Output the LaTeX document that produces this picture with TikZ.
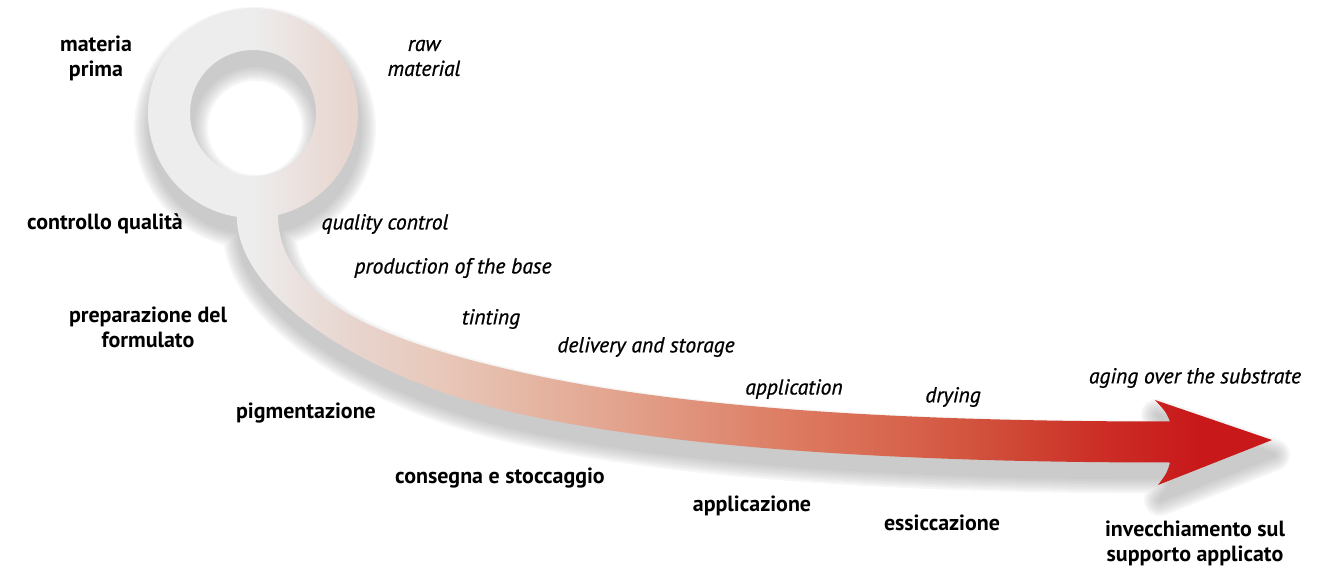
\documentclass[tikz,border=0pt]{standalone}
\usepackage{fontspec}
\setmainfont{PT Sans}
\newfontface\englishface{PT Sans Italic}[FakeBold=0.8]
\usepackage{tikz}
\definecolor{FlowGrey}{HTML}{EDEDED}
\definecolor{FlowBlush}{HTML}{E8D6D0}
\definecolor{FlowSand}{HTML}{E8C8BA}
\definecolor{FlowPeach}{HTML}{E4B09C}
\definecolor{FlowCoral}{HTML}{E0917A}
\definecolor{FlowSalmon}{HTML}{DC7A60}
\definecolor{FlowBrick}{HTML}{D8654E}
\definecolor{FlowRust}{HTML}{D04C38}
\definecolor{FlowScarlet}{HTML}{CC2E26}
\definecolor{FlowRed}{HTML}{C8181A}
\definecolor{ShadowGrey}{HTML}{9A9A9A}
\pgfdeclarehorizontalshading{FlowShading}{100bp}{color(0bp)=(FlowGrey); color(25bp)=(FlowGrey); color(30bp)=(FlowGrey); color(34bp)=(FlowBlush); color(38.2bp)=(FlowSand); color(43.5bp)=(FlowPeach); color(49.6bp)=(FlowCoral); color(54bp)=(FlowSalmon); color(58.5bp)=(FlowBrick); color(62.9bp)=(FlowRust); color(67.4bp)=(FlowScarlet); color(71.8bp)=(FlowRed); color(75bp)=(FlowRed); color(100bp)=(FlowRed)}
\tikzstyle{Italian}=[align=center, text=black, font=\bfseries\fontsize{12.5}{14.2}\selectfont]
\tikzstyle{English}=[align=center, text=black, font=\englishface\fontsize{12.3}{14.2}\selectfont]
\tikzstyle{Flow}=[shading=FlowShading, even odd rule]
\tikzstyle{Shadow}=[fill=ShadowGrey, draw=ShadowGrey, even odd rule, line join=round]
% ring, tail and head in pixel units
\newcommand{\flowoutline}{(236.9,216.8) arc[start angle=98.8, end angle=436.2, radius=105]
	.. controls (278,300) and (384.4,342) .. (524.4,373)
	.. controls (704.4,413) and (950,421.5) .. (1170,421.5)
	.. controls (1166,412) .. (1155,400) -- (1272,440) -- (1158,485)
	.. controls (1167,473) .. (1170,462.5)
	.. controls (950,462.5) and (695.6,453) .. (515.6,413)
	.. controls (375.6,382) and (237,300) .. (236.9,216.8) -- cycle
	(253,113) circle[radius=63]}
\pgfdeclarelayer{shadowlayer}
\pgfdeclarelayer{arrowlayer}
\pgfsetlayers{shadowlayer, arrowlayer, main}

\begin{document}
\begin{tikzpicture}[x=0.02cm, y=-0.02cm]
	\useasboundingbox (0,0) rectangle (1331,570);
	\begin{pgfonlayer}{shadowlayer}
		% soft shadow, one group per width
		\foreach \w in {32,28,...,4} {
			\begin{scope}[shift={(2,15)}, transparency group, opacity=0.085]
				\path [style=Shadow, line width=\w*0.2mm] \flowoutline;
			\end{scope}
		}
	\end{pgfonlayer}
	\begin{pgfonlayer}{arrowlayer}
		\shade [style=Flow] \flowoutline;
	\end{pgfonlayer}
	% italian labels
	\node [style=Italian] (materia) at (96,58) {materia\\prima};
	\node [style=Italian] (controllo) at (105,224) {controllo qualità};
	\node [style=Italian] (preparazione) at (148,327) {preparazione del\\formulato};
	\node [style=Italian] (pigmentazione) at (306,413) {pigmentazione};
	\node [style=Italian] (consegna) at (500,478) {consegna e stoccaggio};
	\node [style=Italian] (applicazione) at (752,506) {applicazione};
	\node [style=Italian] (essiccazione) at (942,523) {essiccazione};
	\node [style=Italian] (invecchiamento) at (1195,543) {invecchiamento sul\\supporto applicato};
	% english labels
	\node [style=English] (raw) at (424,58) {raw\\material};
	\node [style=English] (quality) at (385,224) {quality control};
	\node [style=English] (production) at (453,268) {production of the base};
	\node [style=English] (tinting) at (491,319) {tinting};
	\node [style=English] (delivery) at (646,347) {delivery and storage};
	\node [style=English] (application) at (794,389) {application};
	\node [style=English] (drying) at (953,397) {drying};
	\node [style=English] (aging) at (1195,378) {aging over the substrate};
\end{tikzpicture}
\end{document}
